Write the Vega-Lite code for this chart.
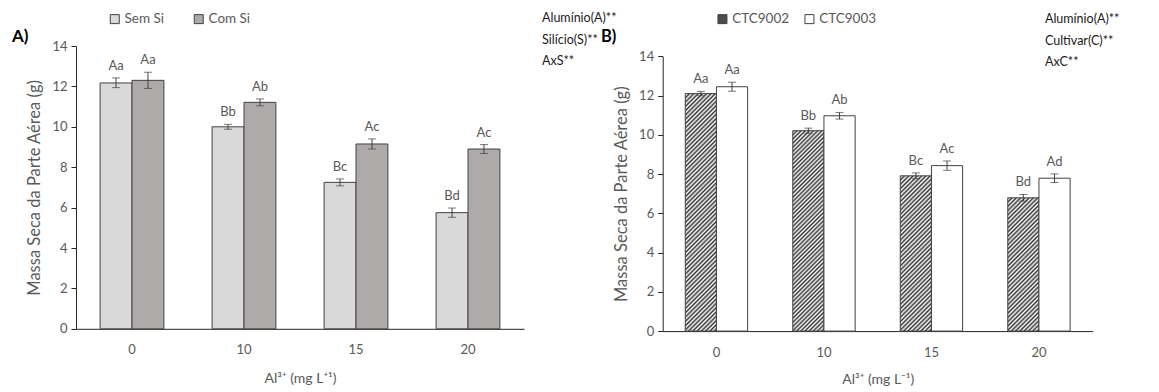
{
  "$schema": "https://vega.github.io/schema/vega-lite/v6.json",
  "background": "white",
  "padding": {"left": 12, "top": 12, "right": 5, "bottom": 3},
  "config": {
    "font": "Lato",
    "view": {"stroke": null},
    "axis": {"grid": false, "domainColor": "#262626", "tickColor": "#262626", "labelColor": "#595959", "labelFontSize": 13, "titleColor": "#595959", "titleFontWeight": "normal"},
    "axisX": {"titleFontSize": 14},
    "axisY": {"titleFontSize": 16.5}
  },
  "datasets": {
    "silicio": [
      {"al": 0, "trat": "Sem Si", "media": 12.17, "inf": 11.94, "sup": 12.42, "letra": "Aa"},
      {"al": 0, "trat": "Com Si", "media": 12.3, "inf": 11.9, "sup": 12.7, "letra": "Aa"},
      {"al": 10, "trat": "Sem Si", "media": 10.0, "inf": 9.88, "sup": 10.12, "letra": "Bb"},
      {"al": 10, "trat": "Com Si", "media": 11.21, "inf": 11.04, "sup": 11.38, "letra": "Ab"},
      {"al": 15, "trat": "Sem Si", "media": 7.25, "inf": 7.08, "sup": 7.42, "letra": "Bc"},
      {"al": 15, "trat": "Com Si", "media": 9.15, "inf": 8.9, "sup": 9.4, "letra": "Ac"},
      {"al": 20, "trat": "Sem Si", "media": 5.75, "inf": 5.52, "sup": 5.98, "letra": "Bd"},
      {"al": 20, "trat": "Com Si", "media": 8.9, "inf": 8.68, "sup": 9.12, "letra": "Ac"}
    ],
    "cultivar": [
      {"al": 0, "cultivar": "CTC9002", "media": 12.1, "inf": 11.99, "sup": 12.21, "letra": "Aa"},
      {"al": 0, "cultivar": "CTC9003", "media": 12.45, "inf": 12.22, "sup": 12.68, "letra": "Aa"},
      {"al": 10, "cultivar": "CTC9002", "media": 10.21, "inf": 10.08, "sup": 10.34, "letra": "Bb"},
      {"al": 10, "cultivar": "CTC9003", "media": 10.97, "inf": 10.8, "sup": 11.14, "letra": "Ab"},
      {"al": 15, "cultivar": "CTC9002", "media": 7.91, "inf": 7.76, "sup": 8.06, "letra": "Bc"},
      {"al": 15, "cultivar": "CTC9003", "media": 8.43, "inf": 8.19, "sup": 8.67, "letra": "Ac"},
      {"al": 20, "cultivar": "CTC9002", "media": 6.79, "inf": 6.62, "sup": 6.96, "letra": "Bd"},
      {"al": 20, "cultivar": "CTC9003", "media": 7.79, "inf": 7.57, "sup": 8.01, "letra": "Ad"}
    ]
  },
  "bounds": "flush",
  "spacing": 138.7,
  "resolve": {
    "scale": {"x": "independent", "y": "independent", "xOffset": "independent", "fill": "independent"},
    "legend": {"fill": "independent"}
  },
  "hconcat": [
    {
      "width": 448,
      "height": 282.8,
      "data": {"name": "silicio"},
      "layer": [
        {
          "mark": {"type": "bar", "stroke": "#404040", "strokeWidth": 1},
          "encoding": {
            "x": {"field": "al", "type": "ordinal", "title": "Al³⁺ (mg L⁺¹)", "scale": {"paddingInner": 0.43, "paddingOuter": 0.215},
                  "axis": {"labelAngle": 0, "ticks": false, "labelPadding": 15, "titlePadding": 15}},
            "xOffset": {"field": "trat", "sort": ["Sem Si", "Com Si"]},
            "y": {"field": "media", "type": "quantitative", "title": "Massa Seca da Parte Aérea (g)", "scale": {"domain": [0, 14]},
                  "axis": {"values": [0, 2, 4, 6, 8, 10, 12, 14], "tickSize": 5, "labelPadding": 4, "titlePadding": 9}},
            "fill": {"field": "trat", "type": "nominal", "sort": ["Sem Si", "Com Si"],
                     "scale": {"domain": ["Sem Si", "Com Si"], "range": ["#d9d9d9", "#aeaaaa"]},
                     "legend": {"title": null, "orient": "none", "legendX": 32, "legendY": -34, "direction": "horizontal", "symbolType": "square", "symbolSize": 81, "symbolStrokeColor": "#404040", "symbolStrokeWidth": 1, "labelFontSize": 13.5, "labelColor": "#595959", "labelOffset": 3, "columnPadding": 28}}
          }
        },
        {
          "mark": {"type": "rule", "color": "#404040", "strokeWidth": 1},
          "encoding": {
            "x": {"field": "al", "type": "ordinal", "title": "Al³⁺ (mg L⁺¹)"},
            "xOffset": {"field": "trat", "sort": ["Sem Si", "Com Si"]},
            "y": {"field": "inf", "type": "quantitative", "title": "Massa Seca da Parte Aérea (g)"},
            "y2": {"field": "sup"}
          }
        },
        {
          "mark": {"type": "tick", "color": "#404040", "size": 8, "thickness": 1},
          "encoding": {
            "x": {"field": "al", "type": "ordinal", "title": "Al³⁺ (mg L⁺¹)"},
            "xOffset": {"field": "trat", "sort": ["Sem Si", "Com Si"]},
            "y": {"field": "inf", "type": "quantitative", "title": "Massa Seca da Parte Aérea (g)"}
          }
        },
        {
          "mark": {"type": "tick", "color": "#404040", "size": 8, "thickness": 1},
          "encoding": {
            "x": {"field": "al", "type": "ordinal", "title": "Al³⁺ (mg L⁺¹)"},
            "xOffset": {"field": "trat", "sort": ["Sem Si", "Com Si"]},
            "y": {"field": "sup", "type": "quantitative", "title": "Massa Seca da Parte Aérea (g)"}
          }
        },
        {
          "mark": {"type": "text", "baseline": "alphabetic", "dy": -8, "fontSize": 13, "color": "#595959"},
          "encoding": {
            "x": {"field": "al", "type": "ordinal", "title": "Al³⁺ (mg L⁺¹)"},
            "xOffset": {"field": "trat", "sort": ["Sem Si", "Com Si"]},
            "y": {"field": "sup", "type": "quantitative", "title": "Massa Seca da Parte Aérea (g)"},
            "text": {"field": "letra"}
          }
        },
        {
          "data": {"values": [{}]},
          "mark": {"type": "text", "align": "left", "baseline": "top", "dx": 74, "dy": -34, "fontSize": 12.5, "lineHeight": 21.5, "color": "#1a1a1a"},
          "encoding": {
            "x": {"datum": 20, "type": "ordinal", "title": "Al³⁺ (mg L⁺¹)"},
            "y": {"datum": 14, "type": "quantitative", "title": "Massa Seca da Parte Aérea (g)"},
            "text": {"value": ["Alumínio(A)**", "Silício(S)**", "AxS**"]}
          }
        },
        {
          "data": {"values": [{}]},
          "mark": {"type": "text", "align": "left", "baseline": "middle", "dx": -120, "dy": -9, "fontSize": 17, "fontWeight": "bold", "color": "#000000"},
          "encoding": {
            "x": {"datum": 0, "type": "ordinal", "title": "Al³⁺ (mg L⁺¹)"},
            "y": {"datum": 14, "type": "quantitative", "title": "Massa Seca da Parte Aérea (g)"},
            "text": {"value": "A)"}
          }
        }
      ]
    },
    {
      "width": 430,
      "height": 285.1,
      "data": {"name": "cultivar"},
      "layer": [
        {
          "mark": {"type": "bar", "stroke": "#404040", "strokeWidth": 1},
          "encoding": {
            "x": {"field": "al", "type": "ordinal", "title": "Al³⁺ (mg L⁻¹)", "scale": {"paddingInner": 0.42, "paddingOuter": 0.21},
                  "axis": {"labelAngle": 0, "ticks": false, "labelPadding": 15, "titlePadding": 13}},
            "xOffset": {"field": "cultivar", "sort": ["CTC9002", "CTC9003"]},
            "y": {"field": "media", "type": "quantitative", "title": "Massa Seca da Parte Aérea (g)", "scale": {"domain": [0, 14], "range": [285.1, 10.3]},
                  "axis": {"values": [0, 2, 4, 6, 8, 10, 12, 14], "tickSize": 5, "labelPadding": 4, "titlePadding": 9}},
            "fill": {
              "field": "cultivar", "type": "nominal", "sort": ["CTC9002", "CTC9003"],
              "scale": {"domain": ["CTC9002", "CTC9003"], "range": ["#4d4d4d", "#ffffff"]},
              "legend": {"title": null, "orient": "none", "legendX": 53, "legendY": -34, "direction": "horizontal", "symbolType": "square", "symbolSize": 81, "symbolStrokeColor": "#404040", "symbolStrokeWidth": 1, "labelFontSize": 13.5, "labelColor": "#595959", "labelOffset": 3, "columnPadding": 13},
              "condition": [
                {"test": "datum.cultivar === 'CTC9002' && datum.al === 0", "value": {"gradient": "linear", "x1": 0, "y1": 0, "x2": 0.146, "y2": 1.112, "stops": [
                  {"offset": 0, "color": "#333"}, {"offset": 0.008, "color": "#fff"}, {"offset": 0.016, "color": "#333"}, {"offset": 0.024, "color": "#fff"}, {"offset": 0.032, "color": "#333"}, {"offset": 0.04, "color": "#fff"}, {"offset": 0.048, "color": "#333"}, {"offset": 0.056, "color": "#fff"}, {"offset": 0.064, "color": "#333"}, {"offset": 0.072, "color": "#fff"},
                  {"offset": 0.08, "color": "#333"}, {"offset": 0.088, "color": "#fff"}, {"offset": 0.096, "color": "#333"}, {"offset": 0.104, "color": "#fff"}, {"offset": 0.112, "color": "#333"}, {"offset": 0.12, "color": "#fff"}, {"offset": 0.128, "color": "#333"}, {"offset": 0.136, "color": "#fff"}, {"offset": 0.144, "color": "#333"}, {"offset": 0.152, "color": "#fff"},
                  {"offset": 0.16, "color": "#333"}, {"offset": 0.168, "color": "#fff"}, {"offset": 0.176, "color": "#333"}, {"offset": 0.184, "color": "#fff"}, {"offset": 0.192, "color": "#333"}, {"offset": 0.2, "color": "#fff"}, {"offset": 0.208, "color": "#333"}, {"offset": 0.216, "color": "#fff"}, {"offset": 0.224, "color": "#333"}, {"offset": 0.232, "color": "#fff"},
                  {"offset": 0.24, "color": "#333"}, {"offset": 0.248, "color": "#fff"}, {"offset": 0.256, "color": "#333"}, {"offset": 0.264, "color": "#fff"}, {"offset": 0.272, "color": "#333"}, {"offset": 0.28, "color": "#fff"}, {"offset": 0.288, "color": "#333"}, {"offset": 0.296, "color": "#fff"}, {"offset": 0.304, "color": "#333"}, {"offset": 0.312, "color": "#fff"},
                  {"offset": 0.32, "color": "#333"}, {"offset": 0.328, "color": "#fff"}, {"offset": 0.336, "color": "#333"}, {"offset": 0.344, "color": "#fff"}, {"offset": 0.352, "color": "#333"}, {"offset": 0.36, "color": "#fff"}, {"offset": 0.368, "color": "#333"}, {"offset": 0.376, "color": "#fff"}, {"offset": 0.384, "color": "#333"}, {"offset": 0.392, "color": "#fff"},
                  {"offset": 0.4, "color": "#333"}, {"offset": 0.408, "color": "#fff"}, {"offset": 0.416, "color": "#333"}, {"offset": 0.424, "color": "#fff"}, {"offset": 0.432, "color": "#333"}, {"offset": 0.44, "color": "#fff"}, {"offset": 0.448, "color": "#333"}, {"offset": 0.456, "color": "#fff"}, {"offset": 0.464, "color": "#333"}, {"offset": 0.472, "color": "#fff"},
                  {"offset": 0.48, "color": "#333"}, {"offset": 0.488, "color": "#fff"}, {"offset": 0.496, "color": "#333"}, {"offset": 0.504, "color": "#fff"}, {"offset": 0.512, "color": "#333"}, {"offset": 0.52, "color": "#fff"}, {"offset": 0.528, "color": "#333"}, {"offset": 0.536, "color": "#fff"}, {"offset": 0.544, "color": "#333"}, {"offset": 0.552, "color": "#fff"},
                  {"offset": 0.56, "color": "#333"}, {"offset": 0.568, "color": "#fff"}, {"offset": 0.576, "color": "#333"}, {"offset": 0.584, "color": "#fff"}, {"offset": 0.592, "color": "#333"}, {"offset": 0.6, "color": "#fff"}, {"offset": 0.608, "color": "#333"}, {"offset": 0.616, "color": "#fff"}, {"offset": 0.624, "color": "#333"}, {"offset": 0.632, "color": "#fff"},
                  {"offset": 0.64, "color": "#333"}, {"offset": 0.648, "color": "#fff"}, {"offset": 0.656, "color": "#333"}, {"offset": 0.664, "color": "#fff"}, {"offset": 0.672, "color": "#333"}, {"offset": 0.68, "color": "#fff"}, {"offset": 0.688, "color": "#333"}, {"offset": 0.696, "color": "#fff"}, {"offset": 0.704, "color": "#333"}, {"offset": 0.712, "color": "#fff"},
                  {"offset": 0.72, "color": "#333"}, {"offset": 0.728, "color": "#fff"}, {"offset": 0.736, "color": "#333"}, {"offset": 0.744, "color": "#fff"}, {"offset": 0.752, "color": "#333"}, {"offset": 0.76, "color": "#fff"}, {"offset": 0.768, "color": "#333"}, {"offset": 0.776, "color": "#fff"}, {"offset": 0.784, "color": "#333"}, {"offset": 0.792, "color": "#fff"},
                  {"offset": 0.8, "color": "#333"}, {"offset": 0.808, "color": "#fff"}, {"offset": 0.816, "color": "#333"}, {"offset": 0.824, "color": "#fff"}, {"offset": 0.832, "color": "#333"}, {"offset": 0.84, "color": "#fff"}, {"offset": 0.848, "color": "#333"}, {"offset": 0.856, "color": "#fff"}, {"offset": 0.864, "color": "#333"}, {"offset": 0.872, "color": "#fff"},
                  {"offset": 0.88, "color": "#333"}, {"offset": 0.888, "color": "#fff"}, {"offset": 0.896, "color": "#333"}, {"offset": 0.904, "color": "#fff"}, {"offset": 0.912, "color": "#333"}, {"offset": 0.92, "color": "#fff"}, {"offset": 0.928, "color": "#333"}, {"offset": 0.936, "color": "#fff"}, {"offset": 0.944, "color": "#333"}, {"offset": 0.952, "color": "#fff"},
                  {"offset": 0.96, "color": "#333"}, {"offset": 0.968, "color": "#fff"}, {"offset": 0.976, "color": "#333"}, {"offset": 0.984, "color": "#fff"}, {"offset": 0.992, "color": "#333"}, {"offset": 1, "color": "#fff"}
                ]}},
                {"test": "datum.cultivar === 'CTC9002' && datum.al === 10", "value": {"gradient": "linear", "x1": 0, "y1": 0, "x2": 0.1755, "y2": 1.1282, "stops": [
                  {"offset": 0, "color": "#333"}, {"offset": 0.009, "color": "#fff"}, {"offset": 0.018, "color": "#333"}, {"offset": 0.027, "color": "#fff"}, {"offset": 0.036, "color": "#333"}, {"offset": 0.045, "color": "#fff"}, {"offset": 0.054, "color": "#333"}, {"offset": 0.063, "color": "#fff"}, {"offset": 0.072, "color": "#333"}, {"offset": 0.081, "color": "#fff"},
                  {"offset": 0.09, "color": "#333"}, {"offset": 0.099, "color": "#fff"}, {"offset": 0.108, "color": "#333"}, {"offset": 0.117, "color": "#fff"}, {"offset": 0.126, "color": "#333"}, {"offset": 0.135, "color": "#fff"}, {"offset": 0.144, "color": "#333"}, {"offset": 0.153, "color": "#fff"}, {"offset": 0.162, "color": "#333"}, {"offset": 0.171, "color": "#fff"},
                  {"offset": 0.18, "color": "#333"}, {"offset": 0.189, "color": "#fff"}, {"offset": 0.198, "color": "#333"}, {"offset": 0.207, "color": "#fff"}, {"offset": 0.216, "color": "#333"}, {"offset": 0.225, "color": "#fff"}, {"offset": 0.234, "color": "#333"}, {"offset": 0.243, "color": "#fff"}, {"offset": 0.252, "color": "#333"}, {"offset": 0.261, "color": "#fff"},
                  {"offset": 0.27, "color": "#333"}, {"offset": 0.279, "color": "#fff"}, {"offset": 0.288, "color": "#333"}, {"offset": 0.297, "color": "#fff"}, {"offset": 0.306, "color": "#333"}, {"offset": 0.315, "color": "#fff"}, {"offset": 0.324, "color": "#333"}, {"offset": 0.333, "color": "#fff"}, {"offset": 0.342, "color": "#333"}, {"offset": 0.351, "color": "#fff"},
                  {"offset": 0.36, "color": "#333"}, {"offset": 0.369, "color": "#fff"}, {"offset": 0.378, "color": "#333"}, {"offset": 0.387, "color": "#fff"}, {"offset": 0.396, "color": "#333"}, {"offset": 0.405, "color": "#fff"}, {"offset": 0.414, "color": "#333"}, {"offset": 0.423, "color": "#fff"}, {"offset": 0.432, "color": "#333"}, {"offset": 0.441, "color": "#fff"},
                  {"offset": 0.45, "color": "#333"}, {"offset": 0.459, "color": "#fff"}, {"offset": 0.468, "color": "#333"}, {"offset": 0.477, "color": "#fff"}, {"offset": 0.486, "color": "#333"}, {"offset": 0.495, "color": "#fff"}, {"offset": 0.504, "color": "#333"}, {"offset": 0.513, "color": "#fff"}, {"offset": 0.522, "color": "#333"}, {"offset": 0.531, "color": "#fff"},
                  {"offset": 0.54, "color": "#333"}, {"offset": 0.549, "color": "#fff"}, {"offset": 0.558, "color": "#333"}, {"offset": 0.567, "color": "#fff"}, {"offset": 0.576, "color": "#333"}, {"offset": 0.585, "color": "#fff"}, {"offset": 0.594, "color": "#333"}, {"offset": 0.603, "color": "#fff"}, {"offset": 0.612, "color": "#333"}, {"offset": 0.621, "color": "#fff"},
                  {"offset": 0.63, "color": "#333"}, {"offset": 0.639, "color": "#fff"}, {"offset": 0.648, "color": "#333"}, {"offset": 0.657, "color": "#fff"}, {"offset": 0.666, "color": "#333"}, {"offset": 0.675, "color": "#fff"}, {"offset": 0.684, "color": "#333"}, {"offset": 0.693, "color": "#fff"}, {"offset": 0.702, "color": "#333"}, {"offset": 0.711, "color": "#fff"},
                  {"offset": 0.72, "color": "#333"}, {"offset": 0.729, "color": "#fff"}, {"offset": 0.738, "color": "#333"}, {"offset": 0.747, "color": "#fff"}, {"offset": 0.756, "color": "#333"}, {"offset": 0.765, "color": "#fff"}, {"offset": 0.774, "color": "#333"}, {"offset": 0.783, "color": "#fff"}, {"offset": 0.792, "color": "#333"}, {"offset": 0.801, "color": "#fff"},
                  {"offset": 0.81, "color": "#333"}, {"offset": 0.819, "color": "#fff"}, {"offset": 0.828, "color": "#333"}, {"offset": 0.837, "color": "#fff"}, {"offset": 0.846, "color": "#333"}, {"offset": 0.855, "color": "#fff"}, {"offset": 0.864, "color": "#333"}, {"offset": 0.873, "color": "#fff"}, {"offset": 0.882, "color": "#333"}, {"offset": 0.891, "color": "#fff"},
                  {"offset": 0.9, "color": "#333"}, {"offset": 0.909, "color": "#fff"}, {"offset": 0.918, "color": "#333"}, {"offset": 0.927, "color": "#fff"}, {"offset": 0.936, "color": "#333"}, {"offset": 0.945, "color": "#fff"}, {"offset": 0.954, "color": "#333"}, {"offset": 0.963, "color": "#fff"}, {"offset": 0.972, "color": "#333"}, {"offset": 0.981, "color": "#fff"},
                  {"offset": 0.99, "color": "#333"}, {"offset": 0.999, "color": "#fff"}
                ]}},
                {"test": "datum.cultivar === 'CTC9002' && datum.al === 15", "value": {"gradient": "linear", "x1": 0, "y1": 0, "x2": 0.2317, "y2": 1.1542, "stops": [
                  {"offset": 0, "color": "#333"}, {"offset": 0.0115, "color": "#fff"}, {"offset": 0.023, "color": "#333"}, {"offset": 0.0345, "color": "#fff"}, {"offset": 0.046, "color": "#333"}, {"offset": 0.0575, "color": "#fff"}, {"offset": 0.069, "color": "#333"}, {"offset": 0.0805, "color": "#fff"}, {"offset": 0.092, "color": "#333"}, {"offset": 0.1035, "color": "#fff"},
                  {"offset": 0.115, "color": "#333"}, {"offset": 0.1265, "color": "#fff"}, {"offset": 0.138, "color": "#333"}, {"offset": 0.1495, "color": "#fff"}, {"offset": 0.161, "color": "#333"}, {"offset": 0.1725, "color": "#fff"}, {"offset": 0.184, "color": "#333"}, {"offset": 0.1955, "color": "#fff"}, {"offset": 0.207, "color": "#333"}, {"offset": 0.2185, "color": "#fff"},
                  {"offset": 0.23, "color": "#333"}, {"offset": 0.2415, "color": "#fff"}, {"offset": 0.253, "color": "#333"}, {"offset": 0.2645, "color": "#fff"}, {"offset": 0.276, "color": "#333"}, {"offset": 0.2875, "color": "#fff"}, {"offset": 0.299, "color": "#333"}, {"offset": 0.3105, "color": "#fff"}, {"offset": 0.322, "color": "#333"}, {"offset": 0.3335, "color": "#fff"},
                  {"offset": 0.345, "color": "#333"}, {"offset": 0.3565, "color": "#fff"}, {"offset": 0.368, "color": "#333"}, {"offset": 0.3795, "color": "#fff"}, {"offset": 0.391, "color": "#333"}, {"offset": 0.4025, "color": "#fff"}, {"offset": 0.414, "color": "#333"}, {"offset": 0.4255, "color": "#fff"}, {"offset": 0.437, "color": "#333"}, {"offset": 0.4485, "color": "#fff"},
                  {"offset": 0.46, "color": "#333"}, {"offset": 0.4715, "color": "#fff"}, {"offset": 0.483, "color": "#333"}, {"offset": 0.4945, "color": "#fff"}, {"offset": 0.506, "color": "#333"}, {"offset": 0.5175, "color": "#fff"}, {"offset": 0.529, "color": "#333"}, {"offset": 0.5405, "color": "#fff"}, {"offset": 0.552, "color": "#333"}, {"offset": 0.5635, "color": "#fff"},
                  {"offset": 0.575, "color": "#333"}, {"offset": 0.5865, "color": "#fff"}, {"offset": 0.598, "color": "#333"}, {"offset": 0.6095, "color": "#fff"}, {"offset": 0.621, "color": "#333"}, {"offset": 0.6325, "color": "#fff"}, {"offset": 0.644, "color": "#333"}, {"offset": 0.6555, "color": "#fff"}, {"offset": 0.667, "color": "#333"}, {"offset": 0.6785, "color": "#fff"},
                  {"offset": 0.69, "color": "#333"}, {"offset": 0.7015, "color": "#fff"}, {"offset": 0.713, "color": "#333"}, {"offset": 0.7245, "color": "#fff"}, {"offset": 0.736, "color": "#333"}, {"offset": 0.7475, "color": "#fff"}, {"offset": 0.759, "color": "#333"}, {"offset": 0.7705, "color": "#fff"}, {"offset": 0.782, "color": "#333"}, {"offset": 0.7935, "color": "#fff"},
                  {"offset": 0.805, "color": "#333"}, {"offset": 0.8165, "color": "#fff"}, {"offset": 0.828, "color": "#333"}, {"offset": 0.8395, "color": "#fff"}, {"offset": 0.851, "color": "#333"}, {"offset": 0.8625, "color": "#fff"}, {"offset": 0.874, "color": "#333"}, {"offset": 0.8855, "color": "#fff"}, {"offset": 0.897, "color": "#333"}, {"offset": 0.9085, "color": "#fff"},
                  {"offset": 0.92, "color": "#333"}, {"offset": 0.9315, "color": "#fff"}, {"offset": 0.943, "color": "#333"}, {"offset": 0.9545, "color": "#fff"}, {"offset": 0.966, "color": "#333"}, {"offset": 0.9775, "color": "#fff"}, {"offset": 0.989, "color": "#333"}
                ]}},
                {"test": "datum.cultivar === 'CTC9002' && datum.al === 20", "value": {"gradient": "linear", "x1": 0, "y1": 0, "x2": 0.2735, "y2": 1.1698, "stops": [
                  {"offset": 0, "color": "#333"}, {"offset": 0.013, "color": "#fff"}, {"offset": 0.026, "color": "#333"}, {"offset": 0.039, "color": "#fff"}, {"offset": 0.052, "color": "#333"}, {"offset": 0.065, "color": "#fff"}, {"offset": 0.078, "color": "#333"}, {"offset": 0.091, "color": "#fff"}, {"offset": 0.104, "color": "#333"}, {"offset": 0.117, "color": "#fff"},
                  {"offset": 0.13, "color": "#333"}, {"offset": 0.143, "color": "#fff"}, {"offset": 0.156, "color": "#333"}, {"offset": 0.169, "color": "#fff"}, {"offset": 0.182, "color": "#333"}, {"offset": 0.195, "color": "#fff"}, {"offset": 0.208, "color": "#333"}, {"offset": 0.221, "color": "#fff"}, {"offset": 0.234, "color": "#333"}, {"offset": 0.247, "color": "#fff"},
                  {"offset": 0.26, "color": "#333"}, {"offset": 0.273, "color": "#fff"}, {"offset": 0.286, "color": "#333"}, {"offset": 0.299, "color": "#fff"}, {"offset": 0.312, "color": "#333"}, {"offset": 0.325, "color": "#fff"}, {"offset": 0.338, "color": "#333"}, {"offset": 0.351, "color": "#fff"}, {"offset": 0.364, "color": "#333"}, {"offset": 0.377, "color": "#fff"},
                  {"offset": 0.39, "color": "#333"}, {"offset": 0.403, "color": "#fff"}, {"offset": 0.416, "color": "#333"}, {"offset": 0.429, "color": "#fff"}, {"offset": 0.442, "color": "#333"}, {"offset": 0.455, "color": "#fff"}, {"offset": 0.468, "color": "#333"}, {"offset": 0.481, "color": "#fff"}, {"offset": 0.494, "color": "#333"}, {"offset": 0.507, "color": "#fff"},
                  {"offset": 0.52, "color": "#333"}, {"offset": 0.533, "color": "#fff"}, {"offset": 0.546, "color": "#333"}, {"offset": 0.559, "color": "#fff"}, {"offset": 0.572, "color": "#333"}, {"offset": 0.585, "color": "#fff"}, {"offset": 0.598, "color": "#333"}, {"offset": 0.611, "color": "#fff"}, {"offset": 0.624, "color": "#333"}, {"offset": 0.637, "color": "#fff"},
                  {"offset": 0.65, "color": "#333"}, {"offset": 0.663, "color": "#fff"}, {"offset": 0.676, "color": "#333"}, {"offset": 0.689, "color": "#fff"}, {"offset": 0.702, "color": "#333"}, {"offset": 0.715, "color": "#fff"}, {"offset": 0.728, "color": "#333"}, {"offset": 0.741, "color": "#fff"}, {"offset": 0.754, "color": "#333"}, {"offset": 0.767, "color": "#fff"},
                  {"offset": 0.78, "color": "#333"}, {"offset": 0.793, "color": "#fff"}, {"offset": 0.806, "color": "#333"}, {"offset": 0.819, "color": "#fff"}, {"offset": 0.832, "color": "#333"}, {"offset": 0.845, "color": "#fff"}, {"offset": 0.858, "color": "#333"}, {"offset": 0.871, "color": "#fff"}, {"offset": 0.884, "color": "#333"}, {"offset": 0.897, "color": "#fff"},
                  {"offset": 0.91, "color": "#333"}, {"offset": 0.923, "color": "#fff"}, {"offset": 0.936, "color": "#333"}, {"offset": 0.949, "color": "#fff"}, {"offset": 0.962, "color": "#333"}, {"offset": 0.975, "color": "#fff"}, {"offset": 0.988, "color": "#333"}
                ]}}
              ]
            }
          }
        },
        {
          "mark": {"type": "rule", "color": "#404040", "strokeWidth": 1},
          "encoding": {
            "x": {"field": "al", "type": "ordinal", "title": "Al³⁺ (mg L⁻¹)"},
            "xOffset": {"field": "cultivar", "sort": ["CTC9002", "CTC9003"]},
            "y": {"field": "inf", "type": "quantitative", "title": "Massa Seca da Parte Aérea (g)"},
            "y2": {"field": "sup"}
          }
        },
        {
          "mark": {"type": "tick", "color": "#404040", "size": 8, "thickness": 1},
          "encoding": {
            "x": {"field": "al", "type": "ordinal", "title": "Al³⁺ (mg L⁻¹)"},
            "xOffset": {"field": "cultivar", "sort": ["CTC9002", "CTC9003"]},
            "y": {"field": "inf", "type": "quantitative", "title": "Massa Seca da Parte Aérea (g)"}
          }
        },
        {
          "mark": {"type": "tick", "color": "#404040", "size": 8, "thickness": 1},
          "encoding": {
            "x": {"field": "al", "type": "ordinal", "title": "Al³⁺ (mg L⁻¹)"},
            "xOffset": {"field": "cultivar", "sort": ["CTC9002", "CTC9003"]},
            "y": {"field": "sup", "type": "quantitative", "title": "Massa Seca da Parte Aérea (g)"}
          }
        },
        {
          "mark": {"type": "text", "baseline": "alphabetic", "dy": -8, "fontSize": 13, "color": "#595959"},
          "encoding": {
            "x": {"field": "al", "type": "ordinal", "title": "Al³⁺ (mg L⁻¹)"},
            "xOffset": {"field": "cultivar", "sort": ["CTC9002", "CTC9003"]},
            "y": {"field": "sup", "type": "quantitative", "title": "Massa Seca da Parte Aérea (g)"},
            "text": {"field": "letra"}
          }
        },
        {
          "data": {"values": [{}]},
          "mark": {"type": "text", "align": "left", "baseline": "top", "dx": 6, "dy": -43, "fontSize": 12.5, "lineHeight": 21.5, "color": "#1a1a1a"},
          "encoding": {
            "x": {"datum": 20, "type": "ordinal", "title": "Al³⁺ (mg L⁻¹)"},
            "y": {"datum": 14, "type": "quantitative", "title": "Massa Seca da Parte Aérea (g)"},
            "text": {"value": ["Alumínio(A)**", "Cultivar(C)**", "AxC**"]}
          }
        },
        {
          "data": {"values": [{}]},
          "mark": {"type": "text", "align": "left", "baseline": "middle", "dx": -115.5, "dy": -19.5, "fontSize": 16.5, "fontWeight": "bold", "color": "#000000"},
          "encoding": {
            "x": {"datum": 0, "type": "ordinal", "title": "Al³⁺ (mg L⁻¹)"},
            "y": {"datum": 14, "type": "quantitative", "title": "Massa Seca da Parte Aérea (g)"},
            "text": {"value": "B)"}
          }
        }
      ]
    }
  ]
}
